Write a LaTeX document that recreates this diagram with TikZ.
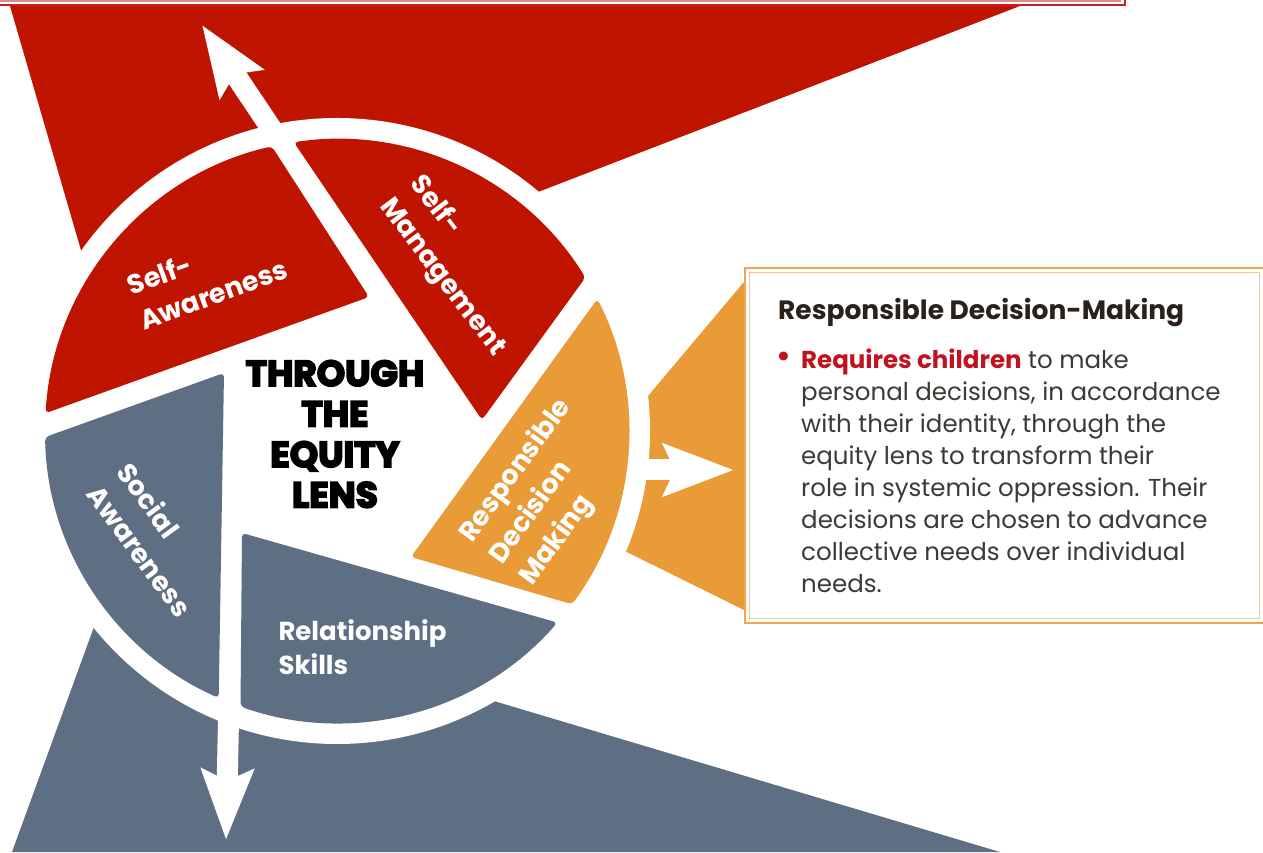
\documentclass[tikz,border=0pt]{standalone}
\usepackage{fontspec}
\setmainfont{Poppins}
\newfontfamily\heavyfont{Poppins}[BoldFeatures={FakeBold=5}]
\usetikzlibrary{arrows.meta}

\definecolor{redseg}{HTML}{BF1400}
\definecolor{orangeseg}{HTML}{E99B37}
\definecolor{grayseg}{HTML}{5E6F84}
\definecolor{framered}{HTML}{C8202A}
\definecolor{framepink}{HTML}{DC8C88}
\definecolor{boxouter}{HTML}{EFA64C}
\definecolor{boxinner}{HTML}{F5C58F}
\definecolor{headdark}{HTML}{2B211B}
\definecolor{bodytext}{HTML}{3D3935}
\definecolor{reqred}{HTML}{C1121F}

\begin{document}
\begin{tikzpicture}[x=1pt, y=1pt,
    segment/.style ={rounded corners=4pt},
    seg_label/.style ={text=white, inner sep=0pt, align=left,
      font=\fontsize{27}{37}\selectfont\bfseries},
    centre_text/.style ={text=black, inner sep=0pt, align=center,
      font=\fontsize{36}{40.5}\selectfont\heavyfont\bfseries},
    box_head/.style ={text=headdark, inner sep=0pt,
      font=\fontsize{26.5}{30}\selectfont\bfseries},
    box_text/.style ={text=bodytext, inner sep=0pt, align=left,
      font=\fontsize{24.5}{32}\selectfont},
    line/.style ={draw=white, line width=21pt,
      -{Stealth[length=70pt, width=51pt, inset=11pt]}}]
    \useasboundingbox (0,0) rectangle (1263,852);
    \coordinate (C) at (337,421);
    % frame of the box above
    \draw[framepink, line width=2pt] (-5,851) -- (1120,851) -- (1120,860);
    \draw[framered, line width=1.5pt] (-5,847) -- (1125,847) -- (1125,860);
    % rays behind the wheel
    \fill[redseg] (10,846) -- (1020,846) -- (393,604) -- (C) -- (110,502) -- cycle;
    \fill[grayseg] (12,0) -- (1000,0) -- (400,179) -- (C) -- (130,324) -- cycle;
    \fill[orangeseg] (746,572.4) -- (746,241) -- (560,333) -- (600,399) -- cycle;
    % white ring
    \fill[white] (C) circle[radius=313];
    % arrows out of the wheel
    \coordinate (top_start) at (283,706);
    \coordinate (top_tip) at (202,827);
    \coordinate (right_start) at (632,382);
    \coordinate (right_tip) at (734,382);
    \coordinate (down_start) at (232,300);
    \coordinate (down_tip) at (226,12);
    \begin{scope}[every path/.style=line]
      \path (top_start) -- (top_tip);
      \path (right_start) -- (right_tip);
      \path (down_start) -- (down_tip);
    \end{scope}
    % the five segments
    \coordinate (sa_corner) at (369,555);
    \coordinate (sm_corner) at (482,432);
    \coordinate (rd_corner) at (411,295);
    \coordinate (so_corner) at (224,479);
    \coordinate (rs_corner) at (242,319);
    \fill[redseg, segment] (sa_corner) -- ([shift={(176.5:292)}]C)
      arc[start angle=176.5, end angle=102.9, radius=292] -- cycle;
    \fill[redseg, segment] (sm_corner) -- ([shift={(98.5:292)}]C)
      arc[start angle=98.5, end angle=31.7, radius=292] -- cycle;
    \fill[orangeseg, segment] (rd_corner) -- ([shift={(26.9:292)}]C)
      arc[start angle=26.9, end angle=-36.4, radius=292] -- cycle;
    \fill[grayseg, segment] (so_corner) -- ([shift={(181.2:292)}]C)
      arc[start angle=181.2, end angle=246.1, radius=292] -- cycle;
    \fill[grayseg, segment] (rs_corner) -- ([shift={(250.7:292)}]C)
      arc[start angle=250.7, end angle=319, radius=292] -- cycle;
    % labels
    \node[seg_label, rotate=20] (self_aware) at (207,575.5) {Self-\\Awareness};
    \node[seg_label, rotate=-53] (self_manage) at (457,585.7) {Self-\\Management};
    \node[seg_label, rotate=-54] (social_aware) at (155,312.4) {Social\\Awareness};
    \node[seg_label, rotate=54] (resp_decision) at (546,359.3) {Responsible\\Decision\\Making};
    \node[seg_label, font=\fontsize{26}{34}\selectfont\bfseries] (rel_skills) at (362.5,205) {Relationship\\Skills};
    \node[centre_text] (equity_lens) at (335,418) {THROUGH\\THE\\EQUITY\\LENS};
    % text box
    \draw[boxouter, fill=white, line width=1.5pt] (745,584) rectangle (1266,229);
    \draw[boxinner, line width=1pt] (749.5,579) rectangle (1259.5,234);
    \node[box_head, anchor=base west] (rdm_head) at (778,532) {Responsible Decision-Making};
    \node[box_text, anchor=north west] (rdm_text) at (801,503)
      {\llap{\textcolor{reqred}{\fontsize{36}{32}\selectfont\textbullet}\hspace{10pt}}\textcolor{reqred}{\bfseries Requires children} to make\\
       personal decisions, in accordance\\
       with their identity, through the\\
       equity lens to transform their\\
       role in systemic oppression. Their\\
       decisions are chosen to advance\\
       collective needs over individual\\
       needs.};
\end{tikzpicture}
\end{document}
